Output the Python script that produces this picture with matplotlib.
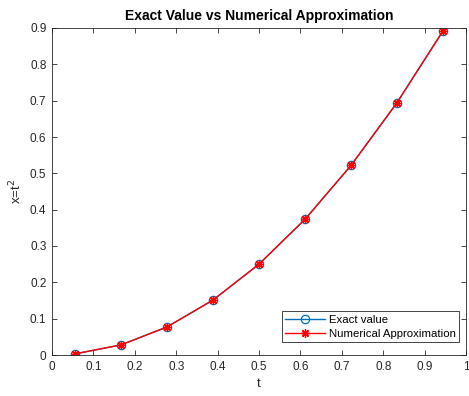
import matplotlib
matplotlib.use("Agg")
import matplotlib.pyplot as plt

plt.rcParams['font.family'] = ['Liberation Sans', 'DejaVu Sans']

t = [0.0556, 0.1667, 0.2778, 0.3889, 0.5, 0.6111, 0.7222, 0.8333, 0.9444]
x_exact = [0.0031, 0.0278, 0.0772, 0.1512, 0.25, 0.3735, 0.5216, 0.6944, 0.8920]
x_num = [0.0031, 0.0278, 0.0772, 0.1512, 0.25, 0.3735, 0.5216, 0.6944, 0.8920]

xticks = [0, 0.1, 0.2, 0.3, 0.4, 0.5, 0.6, 0.7, 0.8, 0.9, 1]
yticks = [0, 0.1, 0.2, 0.3, 0.4, 0.5, 0.6, 0.7, 0.8, 0.9]

fig = plt.figure(figsize=(4.69, 3.96), dpi=100)
# axes box: x 52..466 px, y 28..355 px
ax = fig.add_axes([52 / 469, 41 / 396, 414 / 469, 327 / 396])

ax.plot(t, x_exact, color='#0072BD', marker='o', markersize=6, markerfacecolor='none',
        markeredgewidth=0.9, linewidth=1.0, label='Exact value')
ax.plot(t, x_num, color='#FF0000', marker=(8, 2, 0), markersize=6, markeredgewidth=1.0,
        linewidth=1.0, label='Numerical Approximation')

ax.set_xlim(0, 1)
ax.set_ylim(0, 0.9)
ax.set_xticks(xticks)
ax.set_yticks(yticks)
ax.set_xticklabels([f'{v:g}' for v in xticks])
ax.set_yticklabels([f'{v:g}' for v in yticks])
ax.tick_params(direction='in', top=True, right=True, length=3.5, width=0.6,
               labelsize=8.5, colors='#262626', pad=4)
for s in ax.spines.values():
    s.set_linewidth(0.6)
    s.set_color('#262626')

ax.set_xlabel('t', fontsize=9.5, color='#262626', labelpad=4)
ax.set_ylabel('x=t$^2$', fontsize=9.5, color='#262626', labelpad=4)
ax.set_title('Exact Value vs Numerical Approximation', fontsize=10, fontweight='bold',
             color='black', pad=6)

leg = ax.legend(loc='lower right', bbox_to_anchor=(0.983, 0.04), fontsize=8.2,
                fancybox=False, framealpha=1, edgecolor='#262626', borderaxespad=0,
                handlelength=3.5, handletextpad=0.3, borderpad=0.3, labelspacing=0.32)
leg.get_frame().set_linewidth(0.6)

fig.savefig('out.png', dpi=100)
